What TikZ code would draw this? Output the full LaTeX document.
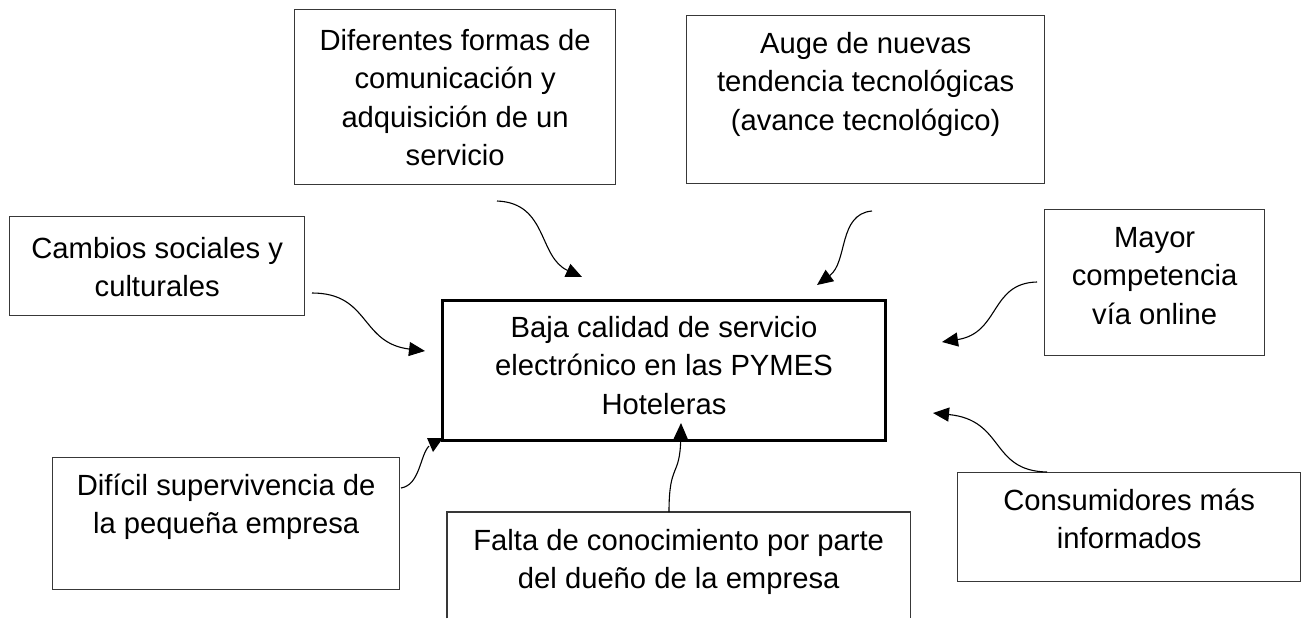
\documentclass[tikz,border=0pt]{standalone}
\usepackage{fontspec}
\setmainfont{Liberation Sans}
\usetikzlibrary{arrows.meta}
\newcommand\fst{\rule{0pt}{22pt}}
\begin{document}
\begin{tikzpicture}[x=1pt,y=-1pt,
  boxs/.style={draw=black!78, line width=1.3pt, inner sep=0pt, anchor=north west},
  mainbox/.style={draw=black, line width=3pt, inner sep=0pt, anchor=north west},
  txt/.style={font=\fontsize{29.2}{38.5}\selectfont, align=center, inner sep=0pt, anchor=north},
  arr/.style={line width=1.1pt, -{Triangle[length=16pt,width=14pt]}},
  conn/.style={line width=1.1pt}]
\useasboundingbox (0,0) rectangle (1305,618);

% boxes
\node[boxs, minimum width=321pt, minimum height=175pt] (b1) at (294,9) {};
\node[boxs, minimum width=358pt, minimum height=168pt] (b2) at (686,15) {};
\node[boxs, minimum width=295pt, minimum height=99pt] (b3) at (9,216) {};
\node[boxs, minimum width=220pt, minimum height=146pt] (b4) at (1044,209) {};
\node[mainbox, minimum width=443pt, minimum height=140pt] (c) at (441,299) {};
\node[boxs, minimum width=347pt, minimum height=132pt] (b5) at (52,457) {};
\node[inner sep=0pt, anchor=north west, minimum width=463pt, minimum height=106pt] (b6) at (447,512) {};
\draw[draw=black!78, line width=1.3pt] (b6.south west) -- (b6.north west) -- (b6.north east) -- (b6.south east);
\node[boxs, minimum width=343pt, minimum height=109pt] (b7) at (957,472) {};

% texts
\node[txt, yshift=-19pt] (t1) at (b1.north) {\fst Diferentes formas de\\comunicación y\\adquisición de un\\servicio};
\node[txt, yshift=-16pt] (t2) at (b2.north) {\fst Auge de nuevas\\tendencia tecnológicas\\(avance tecnológico)};
\node[txt, yshift=-20pt] (t3) at (b3.north) {\fst Cambios sociales y\\culturales};
\node[txt, yshift=-16pt] (t4) at (b4.north) {\fst Mayor\\competencia\\vía online};
\node[txt, yshift=-16pt] (tc) at (c.north) {\fst Baja calidad de servicio\\electrónico en las PYMES\\Hoteleras};
\node[txt, yshift=-16pt] (t5) at (b5.north) {\fst Difícil supervivencia de\\la pequeña empresa};
\node[txt, yshift=-16pt] (t6) at (b6.north) {\fst Falta de conocimiento por parte\\del dueño de la empresa};
\node[txt, yshift=-16pt] (t7) at (b7.north) {\fst Consumidores más\\informados};

% connector end points
\coordinate (s1) at (497,201);  \coordinate (e1) at (582,277);
\coordinate (s2) at (872,211);  \coordinate (e2) at (817,285);
\coordinate (s3) at (312,293);  \coordinate (e3) at (425,351);
\coordinate (s4) at (1037,282); \coordinate (e4) at (942,342);
\coordinate (s5) at (1047,472); \coordinate (e5) at (933,413);
\coordinate (s6) at (669,512);  \coordinate (e6) at (681,423);
\coordinate (s7) at (401,488);  \coordinate (e7) at (429,446);

\draw[arr] (s1) .. controls (548,203) and (538,257) .. (e1);
\draw[arr] (s2) .. controls (838,214) and (848,262) .. (e2);
\draw[arr] (s3) .. controls (370,293) and (360,343) .. (e3);
\draw[arr] (s4) .. controls (990,283) and (1000,333) .. (e4);
\draw[arr] (s5) .. controls (990,471) and (1005,420) .. (e5);
\draw[arr] (s6) .. controls (669,462) and (680,478) .. (e6);
\draw[conn] (s7) .. controls (420,485) and (420,455) .. (e7);
\fill (427,438) -- (443,438) -- (433,452) -- cycle;
\end{tikzpicture}
\end{document}
